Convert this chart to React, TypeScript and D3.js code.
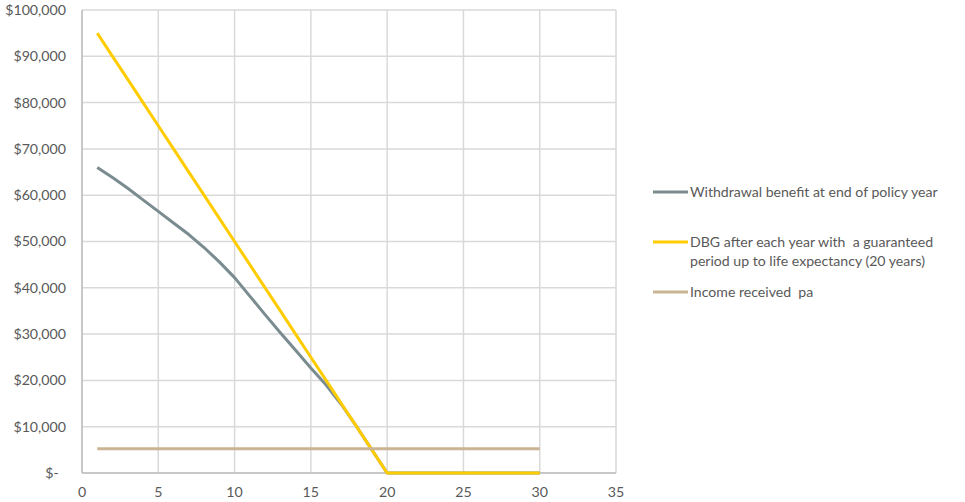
import React from "react";
import * as d3 from "d3";

const years = [1,2,3,4,5,6,7,8,9,10,11,12,13,14,15,16,17,18,19,20,21,22,23,24,25,26,27,28,29,30];
const withdrawal = [66000,63800,61500,59000,56500,54000,51500,48700,45600,42200,38200,34200,30300,26500,22700,19000,14800,10000,5000,0,0,0,0,0,0,0,0,0,0,0];
const dbg = [95000,90000,85000,80000,75000,70000,65000,60000,55000,50000,45000,40000,35000,30000,25000,20000,15000,10000,5000,0,0,0,0,0,0,0,0,0,0,0];
const income = [5250,5250,5250,5250,5250,5250,5250,5250,5250,5250,5250,5250,5250,5250,5250,5250,5250,5250,5250,5250,5250,5250,5250,5250,5250,5250,5250,5250,5250,5250];
const xTicks = [0,5,10,15,20,25,30,35];
const yTicks = [0,10000,20000,30000,40000,50000,60000,70000,80000,90000,100000];
const seriesNames = [
  ["Withdrawal benefit at end of policy year"],
  ["DBG after each year with  a guaranteed", "period up to life expectancy (20 years)"],
  ["Income received  pa"],
];
const colors = ["#7A8C90", "#FFCC00", "#C9B594"];

const W = 965, H = 502;
const left = 82, right = 616, top = 10, bottom = 473;
const font = "Lato, 'Liberation Sans', sans-serif";

export default function App() {
  const x = d3.scaleLinear().domain([0, 35]).range([left, right]);
  const y = d3.scaleLinear().domain([0, 100000]).range([bottom, top]);
  const line = d3.line<[number, number]>().x(d => x(d[0])).y(d => y(d[1]));
  const series = [withdrawal, dbg, income];
  const fmt = (v: number) => v === 0 ? "$-\u00a0\u00a0" : "$" + d3.format(",")(v);
  const legendY = [192, 242, 292];
  return (
    <svg width={W} height={H} style={{ position: "absolute", left: 0, top: 0 }}>
      <rect width={W} height={H} fill="#fff" />
      {xTicks.map(t => (
        <line key={"gx" + t} x1={x(t)} x2={x(t)} y1={top} y2={bottom} stroke="#D9D9D9" strokeWidth={1.5} />
      ))}
      {yTicks.map(t => (
        <line key={"gy" + t} x1={left} x2={right} y1={y(t)} y2={y(t)} stroke="#D9D9D9" strokeWidth={1.5} />
      ))}
      <line x1={left} x2={left} y1={top} y2={bottom} stroke="#BFBFBF" strokeWidth={1.5} />
      <line x1={left} x2={right} y1={bottom} y2={bottom} stroke="#BFBFBF" strokeWidth={1.5} />
      {yTicks.map(t => (
        <text key={"ly" + t} x={66} y={y(t)} dy="0.35em" textAnchor="end" fontFamily={font} fontSize={14.2} fill="#595959">{fmt(t)}</text>
      ))}
      {xTicks.map(t => (
        <text key={"lx" + t} x={x(t)} y={492} dy="0.35em" textAnchor="middle" fontFamily={font} fontSize={14.2} fill="#595959">{t}</text>
      ))}
      {series.map((s, i) => (
        <path key={"s" + i} d={line(years.map((yr, j) => [yr, s[j]] as [number, number])) || ""} fill="none" stroke={colors[i]} strokeWidth={3} strokeLinejoin="round" />
      ))}
      {seriesNames.map((lines, i) => (
        <g key={"lg" + i}>
          <line x1={653} x2={688} y1={legendY[i]} y2={legendY[i]} stroke={colors[i]} strokeWidth={3} />
          {lines.map((l, k) => (
            <text key={k} x={690} y={legendY[i] + k * 19} dy="0.35em" fontFamily={font} fontSize={14.1} fill="#595959" style={{ whiteSpace: "pre" }}>{l}</text>
          ))}
        </g>
      ))}
    </svg>
  );
}
